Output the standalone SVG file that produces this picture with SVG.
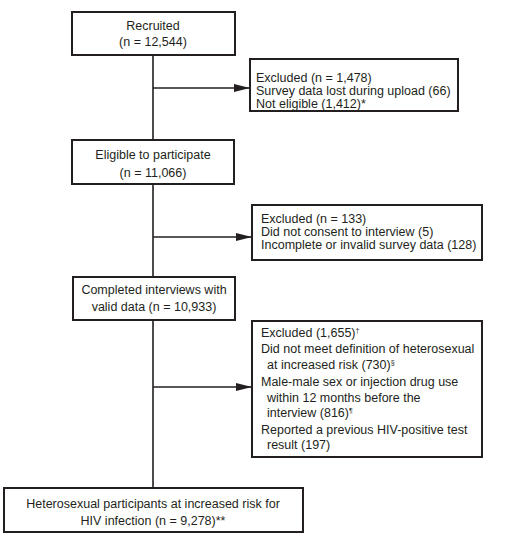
<svg xmlns="http://www.w3.org/2000/svg" width="509" height="546" viewBox="0 0 509 546">
<style>
.box{fill:#fff;stroke:#231f20;stroke-width:2}
.ln{stroke:#231f20;stroke-width:1.6;fill:none}
text{font-family:"Liberation Sans",Arial,sans-serif;font-size:12.5px;fill:#231f20}
.c{text-anchor:middle}
</style>
<defs>
<marker id="ah" markerWidth="16" markerHeight="8" refX="16" refY="4" orient="auto" markerUnits="userSpaceOnUse">
<path d="M0,0 L16,4 L0,8 Z" fill="#231f20"/>
</marker>
</defs>
<g id="connectors">
<line class="ln" x1="153" y1="55" x2="153" y2="140"/>
<line class="ln" x1="153" y1="184" x2="153" y2="277"/>
<line class="ln" x1="153" y1="320" x2="153" y2="488"/>
<line class="ln" x1="153" y1="88" x2="250" y2="88" marker-end="url(#ah)"/>
<line class="ln" x1="153" y1="237" x2="252" y2="237" marker-end="url(#ah)"/>
<line class="ln" x1="153" y1="387" x2="252" y2="387" marker-end="url(#ah)"/>
</g>
<g id="recruited">
<rect class="box" x="72" y="12" width="163" height="43"/>
<text class="c" x="153" y="30">Recruited</text>
<text class="c" x="153" y="46">(n = 12,544)</text>
</g>
<g id="excluded1">
<rect class="box" x="250" y="59" width="208" height="52"/>
<text x="256" y="82">Excluded (n = 1,478)</text>
<text x="256" y="95">Survey data lost during upload (66)</text>
<text x="256" y="108">Not eligible (1,412)*</text>
</g>
<g id="eligible">
<rect class="box" x="72" y="140" width="162" height="44"/>
<text class="c" x="153" y="159">Eligible to participate</text>
<text class="c" x="153" y="177">(n = 11,066)</text>
</g>
<g id="excluded2">
<rect class="box" x="252" y="205" width="230" height="55"/>
<text x="261" y="223">Excluded (n = 133)</text>
<text x="261" y="236">Did not consent to interview (5)</text>
<text x="261" y="249">Incomplete or invalid survey data (128)</text>
</g>
<g id="completed">
<rect class="box" x="73" y="277" width="162" height="43"/>
<text class="c" x="154" y="294">Completed interviews with</text>
<text class="c" x="154" y="311">valid data (n = 10,933)</text>
</g>
<g id="excluded3">
<rect class="box" x="252" y="321" width="230" height="136"/>
<text x="261" y="337">Excluded (1,655)<tspan font-size="7" dy="-4">†</tspan></text>
<text x="261" y="353">Did not meet definition of heterosexual</text>
<text x="267" y="369">at increased risk (730)<tspan font-size="7" dy="-4">§</tspan></text>
<text x="261" y="386">Male-male sex or injection drug use</text>
<text x="267" y="402">within 12 months before the</text>
<text x="267" y="417">interview (816)<tspan font-size="7" dy="-4">¶</tspan></text>
<text x="261" y="434">Reported a previous HIV-positive test</text>
<text x="267" y="449">result (197)</text>
</g>
<g id="final">
<rect class="box" x="4" y="488" width="299" height="44"/>
<text class="c" x="153" y="508">Heterosexual participants at increased risk for</text>
<text class="c" x="153" y="525">HIV infection (n = 9,278)**</text>
</g>
</svg>
